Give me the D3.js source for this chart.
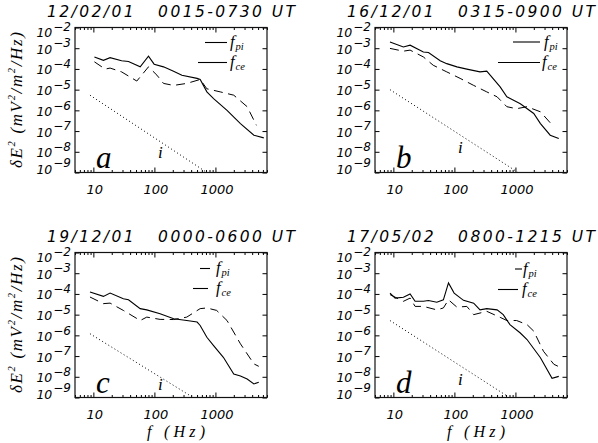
<!DOCTYPE html>
<html><head><meta charset="utf-8">
<script src="https://cdn.jsdelivr.net/npm/d3@7"></script>
<style>body{margin:0;background:#fff} svg{display:block}</style>
</head><body>
<svg id="chart" width="598" height="443"></svg>
<script>
const titles = ["12/02/01   0015-0730 UT", "16/12/01   0315-0900 UT", "19/12/01   0000-0600 UT", "17/05/02   0800-1215 UT"];
const panelLetters = ["a", "b", "c", "d"];
const seriesNames = ["pi", "ce"];
const xTickValues = [10, 100, 1000];
const xMinorTicks = [5,6,7,8,9,20,30,40,50,60,70,80,90,200,300,400,500,600,700,800,900,2000,3000,4000,5000,6000,7000];
const yTickExponents = [-2, -3, -4, -5, -6, -7, -8, -9];
const xDomain = [5, 7000];
const yDomain = [1e-9, 1e-2];

const aSolid = [[10.4,3.8e-4],[14.6,2.6e-4],[18.8,3.5e-4],[29,2.5e-4],[37.6,2.3e-4],[58.5,1.26e-4],[80,4.1e-4],[99,1.7e-4],[141,1.26e-4],[206,7.8e-5],[282,5.0e-5],[500,3.5e-5],[563,3.1e-5],[724,7.8e-6],[933,3.7e-6],[1550,1.0e-6],[2570,2.3e-7],[4270,6.3e-8],[6200,4.7e-8]];
const aDashed = [[10.4,2.2e-4],[15.6,9.8e-5],[18.8,1.1e-4],[29,7.2e-5],[51.5,2.6e-5],[80,1.26e-4],[110,5.0e-5],[141,2.0e-5],[206,1.6e-5],[339,2.0e-5],[563,3.1e-5],[724,1.1e-5],[1200,7.8e-6],[1995,5.4e-6],[3311,1.5e-6],[4700,1.9e-7]];
const aDotted = [[8.8,5.4e-6],[724,1e-9]];

const bSolid = [[8.8,2.0e-3],[14.6,1.15e-3],[18.8,1.4e-3],[31,6.6e-4],[37.6,6.2e-4],[58.5,2.5e-4],[75,1.8e-4],[110,1.26e-4],[160,9.8e-5],[263,7.2e-5],[339,7.8e-5],[562,1.35e-5],[724,4.5e-6],[1202,2.1e-6],[1995,7.1e-7],[2570,2.3e-7],[3715,6.3e-8],[5129,4.4e-8]];
const bDashed = [[8.8,9.8e-4],[14.6,7.2e-4],[18.8,8.1e-4],[31,3.8e-4],[45,1.5e-4],[75,7.2e-5],[124,3.5e-5],[207,1.6e-5],[339,7.8e-6],[501,4.5e-6],[724,1.5e-6],[1047,1.2e-6],[1549,1.5e-6],[2570,8.5e-7],[4266,1.6e-7]];
const bDotted = [[8.8,1.0e-5],[1070,1.07e-9]];

const cSolid = [[8.8,1.23e-4],[14.6,7.6e-5],[18.8,1.1e-4],[31,5.9e-5],[37.6,5.2e-5],[58.5,1.95e-5],[75,1.7e-5],[124,1.1e-5],[207,6.3e-6],[339,5.2e-6],[501,4.4e-6],[562,3.0e-6],[724,8.1e-7],[933,3.2e-7],[1349,8.7e-8],[1995,1.35e-8],[2570,1.1e-8],[3311,7.8e-9],[4266,4.5e-9],[5129,5.4e-9]];
const cDashed = [[8.8,7.1e-5],[14.6,3.4e-5],[18.8,3.6e-5],[31,1.6e-5],[58.5,5.2e-6],[75,7.6e-6],[124,5.9e-6],[207,5.8e-6],[339,7.6e-6],[562,1.95e-5],[724,2.1e-5],[1047,1.6e-5],[1549,5.2e-6],[2570,3.9e-7],[4266,4.2e-8],[5129,3.2e-8]];
const cDotted = [[8.8,1.2e-6],[390,1.2e-9]];

const dSolid = [[8.8,1.1e-4],[10.7,6.3e-5],[14.6,6.9e-5],[18.8,1.0e-4],[22.7,4.4e-5],[31,4.4e-5],[37.6,4.8e-5],[51.5,4.0e-5],[66,5.2e-5],[80,3.4e-4],[99,1.1e-4],[141,4.9e-5],[207,3.6e-5],[263,1.7e-5],[339,1.95e-5],[501,1.7e-5],[631,1.0e-5],[813,3.3e-6],[1202,1.3e-6],[1549,6.3e-7],[2570,8.3e-8],[3981,8.5e-9],[5129,1.05e-8]];
const dDashed = [[8.8,9.3e-5],[14.6,4.4e-5],[18.8,6.3e-5],[22.7,2.5e-5],[31,2.5e-5],[51.5,1.7e-5],[66,2.1e-5],[80,5.2e-5],[110,2.3e-5],[160,2.5e-5],[207,1.0e-5],[339,1.45e-5],[562,7.4e-6],[724,5.2e-6],[1047,5.2e-6],[1549,3.3e-6],[1995,1.6e-6],[2884,1.7e-7],[4266,4.0e-8],[5129,3.1e-8]];
const dDotted = [[8.8,5.2e-6],[724,1.2e-9]];

// layout (local panel coords)
const L = 75, R = 267, T = 27.5, B = 172.5;
const panels = [
  {ox:0,   oy:0,   solid:aSolid, dashed:aDashed, dotted:aDotted, ytitle:true,  xtitle:false,
   leg:[{x1:205,x2:227,y:42.5,tx:230},{x1:198,x2:227,y:62.5,tx:230}], iPos:[158,158]},
  {ox:300, oy:0,   solid:bSolid, dashed:bDashed, dotted:bDotted, ytitle:false, xtitle:false,
   leg:[{x1:213,x2:240,y:42,tx:244},{x1:198,x2:240,y:62.5,tx:242}], iPos:[158,153]},
  {ox:0,   oy:225, solid:cSolid, dashed:cDashed, dotted:cDotted, ytitle:true,  xtitle:true,
   leg:[{x1:200,x2:210,y:43.5,tx:216},{x1:193,x2:208,y:63.5,tx:216}], iPos:[158,165]},
  {ox:300, oy:225, solid:dSolid, dashed:dDashed, dotted:dDotted, ytitle:false, xtitle:true,
   leg:[{x1:215,x2:222,y:44,tx:223},{x1:198,x2:218,y:64.5,tx:222}], iPos:[158,160]}
];

const svg = d3.select("#chart");
const x = d3.scaleLog().domain(xDomain).range([L, R]);
const y = d3.scaleLog().domain(yDomain).range([B, T]);
const line = d3.line().x(d => x(d[0])).y(d => y(d[1]));
const sans = "'DejaVu Sans', 'Liberation Sans', sans-serif";
const serif = "'Liberation Serif', 'Times New Roman', serif";

svg.append("defs").append("clipPath").attr("id","clipbox")
  .append("rect").attr("x",L).attr("y",T).attr("width",R-L).attr("height",B-T);

panels.forEach((p, i) => {
  const g = svg.append("g").attr("transform", `translate(${p.ox},${p.oy})`);

  const tickAxis = (axisFn, scale, vals, size, tx, ty) => {
    const a = g.append("g").attr("transform", `translate(${tx},${ty})`)
      .call(axisFn(scale).tickValues(vals).tickSize(size).tickFormat(""));
    a.select(".domain").remove();
    a.selectAll("line").attr("stroke","#000").attr("stroke-width",1);
  };
  tickAxis(d3.axisBottom, x, xTickValues, -5, 0, B);
  tickAxis(d3.axisBottom, x, xMinorTicks, -2.5, 0, B);
  tickAxis(d3.axisTop, x, xTickValues, -5, 0, T);
  tickAxis(d3.axisTop, x, xMinorTicks, -2.5, 0, T);
  const yVals = yTickExponents.map(e => Math.pow(10, e));
  tickAxis(d3.axisLeft, y, yVals, -4.5, L, 0);
  tickAxis(d3.axisRight, y, yVals, -4.5, R, 0);

  g.append("rect").attr("x",L).attr("y",T).attr("width",R-L).attr("height",B-T)
    .attr("fill","none").attr("stroke","#111").attr("stroke-width",1.2);

  // x tick labels
  g.selectAll(".xl").data(xTickValues).enter().append("text")
    .attr("x", d => x(d) + 1.5).attr("y", B + 21)
    .attr("text-anchor","middle").attr("font-family",sans).attr("font-style","italic")
    .attr("font-size",13).text(d => d);

  // y tick labels
  yTickExponents.forEach(e => {
    const ty = Math.max(T + 9.5, Math.min(B + 1, y(Math.pow(10, e)) + 5.5));
    const t = g.append("text").attr("x", 71).attr("y", ty)
      .attr("text-anchor","end").attr("font-family",sans).attr("font-style","italic");
    t.append("tspan").attr("font-size",12.5).text("10");
    t.append("tspan").attr("font-size",12).attr("dy",-6.3).attr("dx",1).text("\u2212" + Math.abs(e));
  });

  // title
  g.append("text").attr("x", 47).attr("y", 16.5)
    .attr("font-family",sans).attr("font-style","italic").attr("font-size",15.5)
    .attr("textLength",248).attr("lengthAdjust","spacing")
    .style("white-space","pre").text(titles[i]);

  // data lines
  const plot = g.append("g").attr("clip-path","url(#clipbox)");
  plot.append("path").attr("d", line(p.dotted)).attr("fill","none")
    .attr("stroke","#000").attr("stroke-width",1).attr("stroke-dasharray","1,2.6");
  plot.append("path").attr("d", line(p.dashed)).attr("fill","none")
    .attr("stroke","#000").attr("stroke-width",1).attr("stroke-dasharray","9,5.5");
  plot.append("path").attr("d", line(p.solid)).attr("fill","none")
    .attr("stroke","#000").attr("stroke-width",1.1);

  // legend
  p.leg.forEach((l, k) => {
    g.append("line").attr("x1",l.x1).attr("x2",l.x2).attr("y1",l.y).attr("y2",l.y)
      .attr("stroke","#000").attr("stroke-width",1.1);
    const t = g.append("text").attr("x", l.tx).attr("y", l.y + 4.5)
      .attr("font-family",serif).attr("font-style","italic");
    t.append("tspan").attr("font-size",16.5).text("f");
    t.append("tspan").attr("font-size",10.5).attr("dy",3).attr("dx",1).text(seriesNames[k]);
  });

  // panel letter and i label
  g.append("text").attr("x", 96).attr("y", 167.5)
    .attr("font-family",serif).attr("font-style","italic").attr("font-size",31)
    .text(panelLetters[i]);
  g.append("text").attr("x", p.iPos[0]).attr("y", p.iPos[1])
    .attr("font-family",serif).attr("font-style","italic").attr("font-size",17).text("i");

  // axis titles
  if (p.ytitle) {
    const t = g.append("text").attr("transform","translate(21.5,100) rotate(-90)")
      .attr("text-anchor","middle").attr("font-family",serif).attr("font-style","italic")
      .attr("font-size",17).attr("textLength",136).attr("lengthAdjust","spacing");
    t.append("tspan").text("\u03b4E");
    t.append("tspan").attr("font-size",10.5).attr("dy",-6.5).text("2");
    t.append("tspan").attr("dy",6.5).text(" (mV");
    t.append("tspan").attr("font-size",10.5).attr("dy",-6.5).text("2");
    t.append("tspan").attr("dy",6.5).text("/m");
    t.append("tspan").attr("font-size",10.5).attr("dy",-6.5).text("2");
    t.append("tspan").attr("dy",6.5).text("/Hz)");
  }
  if (p.xtitle) {
    g.append("text").attr("x", 176).attr("y", 212)
      .attr("text-anchor","middle").attr("font-family",serif).attr("font-style","italic")
      .attr("font-size",16).attr("textLength",58).attr("lengthAdjust","spacing")
      .style("white-space","pre").text("f (Hz)");
  }
});
</script>
</body></html>
